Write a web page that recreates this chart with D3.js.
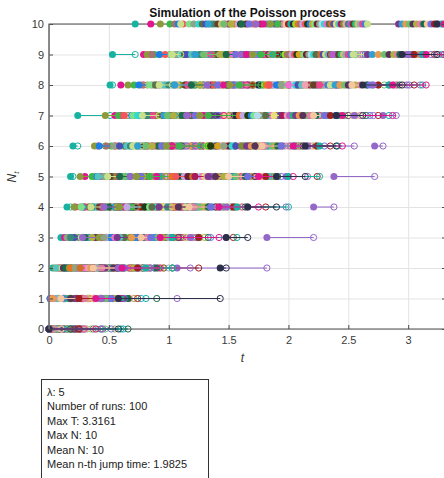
<!DOCTYPE html>
<html>
<head>
<meta charset="utf-8">
<script src="https://cdn.jsdelivr.net/npm/d3@7"></script>
<style>
  body { margin: 0; background: #fff; }
  text { font-family: "Liberation Sans", Arial, sans-serif; }
</style>
</head>
<body>
<svg id="chart" width="444" height="478"></svg>
<script>
"use strict";

// parametres de la simulation
const lambda = 5;
const numberOfRuns = 100;
const maxT = 3.3161;
const maxN = 10;
const meanN = 10;
const meanJumpTime = 1.9825;

const xTicks = [0, 0.5, 1, 1.5, 2, 2.5, 3];
const yTicks = [0, 1, 2, 3, 4, 5, 6, 7, 8, 9, 10];

// temps de saut T1..T10 de chaque trajectoire (estimes a l'oeil)
const jumpTimes = [
  [0.45,1.07,1.82,2.21,2.38,2.72,2.79,2.90,3.10,3.3161],
  [0.01,0.03,0.10,0.15,0.18,0.20,0.24,0.51,0.53,0.72],
  [0.04,0.09,0.13,0.22,0.30,0.41,0.55,0.60,0.79,0.85],
  [0.06,0.21,0.29,0.48,0.66,0.79,1.03,1.18,1.39,1.50],
  [0.02,0.05,0.17,0.21,0.26,0.38,0.47,0.66,0.82,0.93],
  [0.17,0.23,0.40,0.46,0.72,0.85,1.12,1.24,1.37,1.53],
  [0.11,0.14,0.19,0.33,0.36,0.52,0.58,0.71,0.88,1.01],
  [0.03,0.31,0.39,0.60,0.70,0.93,1.01,1.27,1.45,1.55],
  [0.03,0.20,0.24,0.29,0.43,0.48,0.62,0.77,0.86,1.05],
  [0.09,0.14,0.34,0.56,0.63,0.88,1.17,1.30,1.42,1.58],
  [0.06,0.08,0.25,0.31,0.45,0.56,0.63,0.90,0.97,1.12],
  [0.20,0.28,0.44,0.51,0.77,0.90,1.06,1.33,1.49,1.60],
  [0.01,0.12,0.16,0.28,0.40,0.42,0.69,0.75,0.92,1.08],
  [0.05,0.10,0.22,0.64,0.81,0.97,1.14,1.21,1.51,1.63],
  [0.09,0.18,0.23,0.27,0.50,0.61,0.70,0.84,1.02,1.17],
  [0.13,0.35,0.42,0.55,0.69,1.02,1.19,1.36,1.54,1.65],
  [0.05,0.07,0.15,0.39,0.46,0.54,0.80,0.94,1.06,1.21],
  [0.02,0.17,0.49,0.58,0.84,0.92,1.09,1.40,1.57,1.68],
  [0.14,0.22,0.35,0.37,0.49,0.67,0.74,0.99,1.10,1.25],
  [0.25,0.30,0.38,0.67,0.75,1.05,1.23,1.43,1.52,1.70],
  [0.02,0.11,0.26,0.34,0.57,0.64,0.81,0.89,1.13,1.28],
  [0.08,0.26,0.36,0.43,0.89,1.00,1.28,1.38,1.61,1.72],
  [0.07,0.16,0.21,0.44,0.53,0.59,0.86,1.04,1.15,1.31],
  [0.15,0.19,0.53,0.62,0.73,0.95,1.31,1.47,1.59,1.75],
  [0.03,0.06,0.30,0.38,0.41,0.65,0.78,0.96,1.19,1.34],
  [0.04,0.37,0.45,0.70,0.78,1.10,1.20,1.50,1.66,1.77],
  [0.10,0.27,0.32,0.47,0.55,0.73,0.91,1.09,1.22,1.36],
  [0.11,0.24,0.31,0.52,0.94,1.07,1.25,1.44,1.69,1.80],
  [0.04,0.13,0.18,0.36,0.60,0.68,0.83,1.00,1.26,1.38],
  [0.30,0.33,0.47,0.74,0.86,1.13,1.34,1.55,1.63,1.82],
  [0.08,0.19,0.33,0.42,0.51,0.76,0.95,1.14,1.29,1.41],
  [0.07,0.20,0.58,0.66,0.83,0.99,1.37,1.49,1.71,1.84],
  [0.12,0.15,0.28,0.53,0.62,0.71,0.98,1.07,1.32,1.44],
  [0.18,0.41,0.50,0.61,0.97,1.16,1.29,1.58,1.74,1.86],
  [0.01,0.24,0.37,0.45,0.58,0.82,0.87,1.16,1.35,1.47],
  [0.01,0.15,0.27,0.79,0.91,1.08,1.42,1.53,1.76,1.88],
  [0.05,0.11,0.27,0.35,0.49,0.70,0.78,0.92,1.03,1.10],
  [0.22,0.28,0.55,0.68,1.04,1.22,1.35,1.62,1.79,1.90],
  [0.18,0.26,0.33,0.55,0.61,0.74,0.96,1.05,1.22,1.33],
  [0.10,0.46,0.52,0.85,0.96,1.18,1.46,1.60,1.81,1.92],
  [0.02,0.19,0.41,0.47,0.63,0.81,0.99,1.20,1.29,1.46],
  [0.06,0.12,0.39,0.57,0.80,1.26,1.40,1.67,1.83,1.94],
  [0.12,0.29,0.36,0.57,0.79,0.86,1.04,1.26,1.43,1.52],
  [0.27,0.38,0.63,0.72,1.11,1.24,1.52,1.65,1.85,1.96],
  [0.08,0.14,0.30,0.50,0.59,0.92,1.11,1.19,1.48,1.61],
  [0.14,0.21,0.43,0.88,1.00,1.30,1.48,1.72,1.89,1.98],
  [0.21,0.34,0.52,0.60,0.77,0.94,1.22,1.41,1.56,1.67],
  [0.03,0.32,0.59,0.76,1.15,1.33,1.56,1.70,1.91,2.00],
  [0.03,0.23,0.28,0.46,0.68,1.01,1.15,1.32,1.60,1.73],
  [0.19,0.29,0.67,0.82,0.92,1.27,1.61,1.77,1.87,2.02],
  [0.15,0.38,0.45,0.63,0.90,1.03,1.29,1.46,1.65,1.79],
  [0.09,0.44,0.54,0.71,1.09,1.39,1.55,1.75,1.95,2.04],
  [0.10,0.17,0.42,0.59,0.73,0.98,1.26,1.51,1.70,1.85],
  [0.35,0.40,0.62,0.93,1.19,1.32,1.64,1.80,1.97,2.06],
  [0.26,0.32,0.56,0.69,0.84,1.09,1.33,1.59,1.77,1.91],
  [0.05,0.18,0.70,0.87,1.03,1.45,1.59,1.82,2.00,2.08],
  [0.16,0.51,0.61,0.98,1.23,1.36,1.68,1.85,1.99,2.10],
  [0.12,0.25,0.48,0.65,1.13,1.43,1.62,1.88,2.03,2.12],
  [0.23,0.34,0.74,0.90,1.06,1.48,1.73,1.84,2.05,2.14],
  [0.02,0.43,0.57,0.80,1.21,1.35,1.66,1.93,2.07,2.16],
  [0.28,0.36,0.52,1.01,1.17,1.51,1.69,1.90,2.11,2.18],
  [0.08,0.27,0.78,0.95,1.27,1.41,1.76,1.96,2.09,2.20],
  [0.40,0.47,0.66,0.84,1.31,1.54,1.71,1.98,2.13,2.22],
  [0.13,0.56,0.69,1.06,1.16,1.50,1.80,2.01,2.15,2.24],
  [0.06,0.22,0.46,0.92,1.34,1.46,1.78,1.94,2.17,2.26],
  [0.31,0.39,0.81,0.97,1.25,1.57,1.74,2.04,2.19,2.28],
  [0.17,0.60,0.72,0.89,1.37,1.53,1.83,2.06,2.21,2.30],
  [0.04,0.30,0.55,1.11,1.28,1.60,1.86,2.00,2.24,2.32],
  [0.21,0.49,0.63,0.86,1.40,1.63,1.81,2.09,2.23,2.34],
  [0.10,0.26,0.84,1.02,1.20,1.67,1.90,2.12,2.27,2.36],
  [0.37,0.42,0.75,1.13,1.43,1.56,1.93,2.08,2.29,2.38],
  [0.14,0.64,0.77,0.94,1.30,1.70,1.88,2.15,2.31,2.40],
  [0.07,0.35,0.59,1.08,1.46,1.65,1.97,2.11,2.33,2.42],
  [0.26,0.45,0.88,1.04,1.22,1.73,1.95,2.18,2.35,2.44],
  [0.19,0.53,0.68,1.15,1.49,1.61,2.02,2.20,2.36,2.46],
  [0.11,0.33,0.92,1.07,1.32,1.76,1.99,2.14,2.38,2.48],
  [0.43,0.50,0.71,0.99,1.52,1.72,2.05,2.23,2.40,2.50],
  [0.02,0.58,0.80,1.18,1.36,1.79,2.01,2.25,2.37,2.52],
  [0.24,0.37,0.96,1.10,1.55,1.68,2.08,2.21,2.42,2.54],
  [0.15,0.62,0.79,1.20,1.42,1.82,2.04,2.27,2.44,2.56],
  [0.32,0.48,0.85,1.03,1.58,1.75,2.10,2.29,2.46,2.58],
  [0.05,0.41,1.00,1.22,1.39,1.85,2.07,2.31,2.48,2.60],
  [0.29,0.67,0.83,1.12,1.61,1.78,2.13,2.26,2.50,2.62],
  [0.12,0.46,0.73,1.25,1.45,1.88,2.16,2.33,2.52,2.64],
  [0.38,0.55,1.03,1.14,1.64,1.81,2.11,2.35,2.54,2.66],
  [0.22,0.47,0.57,0.92,1.33,1.65,2.06,2.40,2.66,2.92],
  [0.62,0.77,0.88,1.23,1.53,1.83,2.10,2.39,2.70,2.95],
  [0.03,0.35,0.69,1.06,1.41,1.69,2.09,2.43,2.75,2.98],
  [0.47,0.60,0.91,1.26,1.56,1.86,2.15,2.47,2.80,3.01],
  [0.18,0.54,0.78,1.08,1.39,1.72,2.12,2.50,2.84,3.04],
  [0.55,0.71,0.95,1.30,1.46,1.89,2.20,2.56,2.88,3.07],
  [0.30,0.44,0.82,1.21,1.62,1.80,2.18,2.60,2.91,3.10],
  [0.66,0.90,1.03,1.33,1.64,1.91,2.23,2.65,2.93,3.13],
  [0.10,0.37,0.77,1.17,1.50,1.78,2.21,2.53,2.97,3.16],
  [0.52,0.63,0.85,1.35,1.66,1.94,2.30,2.68,3.01,3.19],
  [0.25,0.74,1.25,1.54,1.81,2.24,2.35,2.75,3.05,3.22],
  [0.44,0.58,1.18,1.48,1.98,2.16,2.55,2.71,2.99,3.25],
  [0.60,0.81,1.03,1.57,2.00,2.26,2.41,2.84,3.12,3.28],
  [0.39,0.61,0.93,1.42,1.75,2.04,2.45,2.87,3.15,3.30],
  [0.58,1.43,1.48,1.66,1.90,2.14,2.40,2.62,2.95,3.24]
];

// couleurs aleatoires style MATLAB, une par trajectoire (on boucle)
const palette = [
  "#9467c9","#17b3a0","#e0168e","#2b2f4a","#8b9b3b","#96e01e","#3db64a","#ed7322",
  "#a3746c","#c2a6e6","#f2565a","#203d12","#1f80e3","#d4a321","#7fe08a","#6b1f33",
  "#8fa387","#b0dcef","#2ed9cf","#f26fcf","#5c6e4a","#cf6f2a","#4a4fb5","#e8e07a",
  "#55c4c0","#a81b5b","#7d8f2e","#f0a0b0","#3a8a7a","#b85ad0","#68402a","#1ec26e",
  "#d0c070","#9aa6b8","#ee4488","#467ed0","#c8e08c","#7a3a8c","#2fa0d0","#e89a50",
  "#6ec070","#58345a","#b0b040","#df7fa0","#1c6b4a","#f5c7a0","#7070e0","#a02020"
];

const svg = d3.select("#chart");
const x = d3.scaleLinear().domain([0, maxT]).range([49, 446]);
const y = d3.scaleLinear().domain([0, 10]).range([329, 24]);
const axisColor = "#4d4d4d";

// grille
svg.append("g")
  .attr("transform", `translate(0,${y(0)})`)
  .call(d3.axisBottom(x).tickValues(xTicks).tickSize(-(y(0) - y(10))).tickFormat(""))
  .call(g => g.select(".domain").remove())
  .selectAll("line").attr("stroke", "#e3e3e3");
svg.append("g")
  .attr("transform", `translate(${x(0)},0)`)
  .call(d3.axisLeft(y).tickValues(yTicks).tickSize(-(x(maxT) - x(0))).tickFormat(""))
  .call(g => g.select(".domain").remove())
  .selectAll("line").attr("stroke", "#e3e3e3");

// cadre
svg.append("rect")
  .attr("x", x(0)).attr("y", y(10))
  .attr("width", x(maxT) - x(0)).attr("height", y(0) - y(10))
  .attr("fill", "none").attr("stroke", axisColor).attr("stroke-width", 1);

// trajectoires : segment, point plein au saut, cercle vide au saut suivant
const runs = svg.append("g");
jumpTimes.forEach((times, i) => {
  const col = palette[i % palette.length];
  const g = runs.append("g");
  const starts = [0].concat(times.slice(0, 9));
  for (let k = 0; k < 10; k++) {
    const t0 = starts[k], t1 = times[k];
    g.append("line")
      .attr("x1", x(t0)).attr("x2", x(t1))
      .attr("y1", y(k)).attr("y2", y(k))
      .attr("stroke", col).attr("stroke-width", 1);
    g.append("circle")
      .attr("cx", x(t0)).attr("cy", y(k)).attr("r", 3.5)
      .attr("fill", col);
    g.append("circle")
      .attr("cx", x(t1)).attr("cy", y(k)).attr("r", 3.1)
      .attr("fill", "none").attr("stroke", col).attr("stroke-width", 1);
  }
  g.append("circle")
    .attr("cx", x(times[9])).attr("cy", y(10)).attr("r", 3.5)
    .attr("fill", col);
});

// axes
const yAxis = svg.append("g")
  .attr("transform", `translate(${x(0)},0)`)
  .call(d3.axisLeft(y).tickValues(yTicks).tickSize(-4).tickPadding(5).tickFormat(d3.format("d")));
const xAxis = svg.append("g")
  .attr("transform", `translate(0,${y(0)})`)
  .call(d3.axisBottom(x).tickValues(xTicks).tickSize(-4).tickPadding(7).tickFormat(d => String(d)));
const yAxisRight = svg.append("g")
  .attr("transform", `translate(${x(maxT)},0)`)
  .call(d3.axisRight(y).tickValues(yTicks).tickSize(-4).tickFormat(""));
[yAxis, xAxis, yAxisRight].forEach(a => {
  a.select(".domain").remove();
  a.selectAll("line").attr("stroke", axisColor);
  a.selectAll("text").attr("fill", "#3a3a3a").attr("font-size", 11)
    .attr("font-family", "Liberation Sans, Arial, sans-serif");
});
svg.append("line")
  .attr("x1", x(0)).attr("x2", x(0)).attr("y1", y(10)).attr("y2", y(0))
  .attr("stroke", "#7a7a7a").attr("stroke-width", 1.2);

// titres
svg.append("text")
  .attr("x", (x(0) + x(maxT)) / 2).attr("y", 17)
  .attr("text-anchor", "middle").attr("font-size", 12).attr("font-weight", "bold")
  .attr("fill", "#111")
  .text("Simulation of the Poisson process");

svg.append("text")
  .attr("x", (x(0) + x(maxT)) / 2 - 5).attr("y", 362)
  .attr("text-anchor", "middle").attr("font-size", 12).attr("font-style", "italic")
  .attr("fill", "#333")
  .text("t");

const ylab = svg.append("text")
  .attr("transform", "translate(16,177) rotate(-90)")
  .attr("text-anchor", "middle").attr("font-size", 12).attr("font-style", "italic")
  .attr("fill", "#333");
ylab.append("tspan").text("N");
ylab.append("tspan").attr("font-size", 8).attr("dy", 3).text("t");

// boite d'info
svg.append("rect")
  .attr("x", 41.5).attr("y", 379.5).attr("width", 167).attr("height", 110)
  .attr("fill", "#fff").attr("stroke", "#333").attr("stroke-width", 1);

const infoLines = [
  "\u03bb: " + lambda,
  "Number of runs: " + numberOfRuns,
  "Max T: " + maxT,
  "Max N: " + maxN,
  "Mean N: " + meanN,
  "Mean n-th jump time: " + meanJumpTime
];
svg.append("g").selectAll("text")
  .data(infoLines)
  .enter()
  .append("text")
  .attr("x", 47)
  .attr("y", (d, i) => 396 + i * 14.4)
  .attr("font-size", 11)
  .attr("fill", "#222")
  .text(d => d);
</script>
</body>
</html>
